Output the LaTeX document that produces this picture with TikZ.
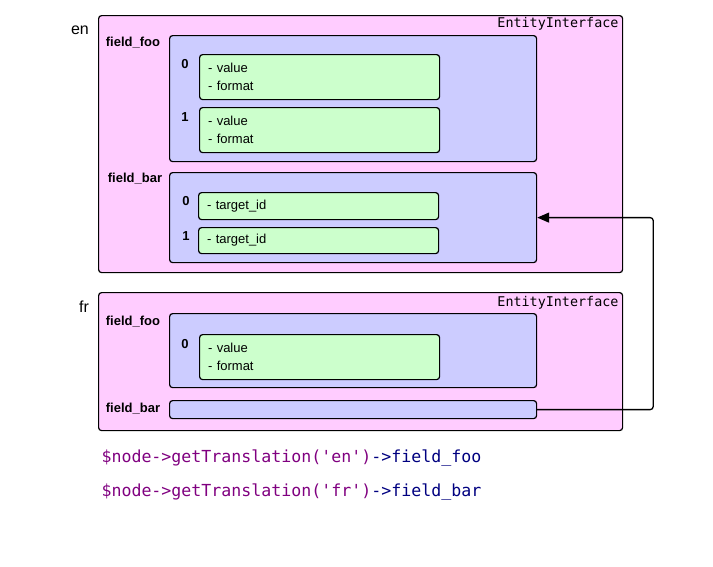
\documentclass[tikz,border=0pt]{standalone}
\usepackage{fontspec}
\setmainfont{Liberation Sans}
\setmonofont{DejaVu Sans Mono}
\usetikzlibrary{arrows.meta}
\usetikzlibrary{positioning}
\definecolor{entpink}{HTML}{FFCCFF}
\definecolor{fldblue}{HTML}{CCCCFF}
\definecolor{valgreen}{HTML}{CCFFCC}
\definecolor{codepurple}{HTML}{800080}
\definecolor{codenavy}{HTML}{000080}
\tikzset{
	box/.style={draw, line width=1.2pt, rounded corners=3pt, anchor=north west, inner sep=0pt},
	entity/.style={box, fill=entpink, minimum width=524pt},
	field/.style={box, fill=fldblue, minimum width=367pt},
	item/.style={box, fill=valgreen, minimum width=240pt, text width=223pt, inner xsep=8.5pt, align=left,
		font=\fontsize{13}{18}\selectfont},
	lbl/.style={font=\fontsize{13}{15}\selectfont\bfseries},
	lang/.style={font=\fontsize{16}{18}\selectfont},
	iface/.style={anchor=east, font=\fontsize{13.4}{15}\ttfamily},
	code/.style={anchor=west, font=\fontsize{16.6}{18}\ttfamily}
}
\begin{document}
\begin{tikzpicture}[x=1pt, y=-1pt]
	\useasboundingbox (0,0) rectangle (713,566);
	% en translation
	\node[entity, minimum height=257pt] (en) at (98,15) {};
	\node[iface] (enif) at (622,24) {EntityInterface};
	\node[lang] (enl) at (80,30) {en};
	\node[field, minimum height=126pt] (enfoo) at (169,35) {};
	\node[lbl] (enfool) at (133,43) {field\_foo};
	\node[item, minimum height=45pt] (enfoo0) at (199,54) {- value\\- format};
	\node[lbl] (enfoo0l) at (185,64) {0};
	\node[item, minimum height=45pt] (enfoo1) at (199,107) {- value\\- format};
	\node[lbl] (enfoo1l) at (185,117) {1};
	\node[field, minimum height=90pt] (enbar) at (169,172) {};
	\node[lbl] (enbarl) at (135,179) {field\_bar};
	\node[item, minimum height=27pt] (enbar0) at (198,192) {- target\_id};
	\node[lbl] (enbar0l) at (186,201) {0};
	\node[item, minimum height=26pt] (enbar1) at (198,227) {- target\_id};
	\node[lbl] (enbar1l) at (186,236) {1};
	% fr translation
	\node[entity, minimum height=138pt] (fr) at (98,292) {};
	\node[iface] (frif) at (622,303) {EntityInterface};
	\node[lang] (frl) at (84,307) {fr};
	\node[field, minimum height=74pt] (frfoo) at (169,313) {};
	\node[lbl] (frfool) at (133,322) {field\_foo};
	\node[item, minimum height=45pt] (frfoo0) at (199,334) {- value\\- format};
	\node[lbl] (frfoo0l) at (185,344) {0};
	\node[field, minimum height=18pt] (frbar) at (169,400) {};
	\node[lbl] (frbarl) at (133,409) {field\_bar};
	\draw[-{Triangle[length=12pt, width=10pt]}, line width=1.3pt, rounded corners=3pt]
		(frbar.east) -- ++(116,0) |- (enbar.east);
	% accessors
	\node[code] (c1) at (98,458) {\textcolor{codepurple}{\$node->getTranslation('en')}\textcolor{codenavy}{->field\_foo}};
	\node[code] (c2) at (98,492) {\textcolor{codepurple}{\$node->getTranslation('fr')}\textcolor{codenavy}{->field\_bar}};
\end{tikzpicture}
\end{document}
